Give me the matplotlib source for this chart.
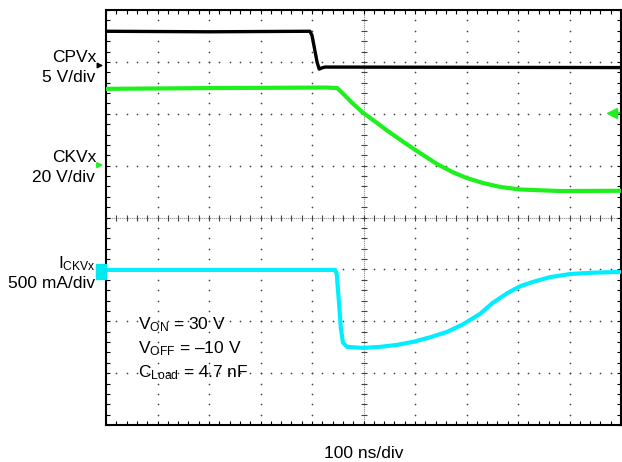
import numpy as np
import matplotlib
matplotlib.use("Agg")
import matplotlib.pyplot as plt
from matplotlib.ticker import MultipleLocator
from matplotlib.patches import Rectangle

plt.rcParams['font.family'] = ['Liberation Sans', 'DejaVu Sans']
plt.rcParams['mathtext.fontset'] = 'custom'
plt.rcParams['mathtext.rm'] = 'Liberation Sans'
plt.rcParams['mathtext.it'] = 'Liberation Sans'

# time in ns (100 ns/div)
cpv_t = [0, 200, 396, 400, 405, 410, 414, 418, 425, 1000]
cpv_v = [3.3, 3.25, 3.3, 2.9, 1.6, 0.3, -0.35, -0.25, -0.15, -0.2]     # V, 5 V/div

ckv_t = [0, 200, 429, 449, 460, 480, 499, 526, 546, 577, 604, 643, 674, 701,
         732, 765, 804, 882, 1000]
ckv_v = [29.4, 29.7, 29.9, 29.7, 27.6, 23.6, 20.2, 16.3, 13.3, 9.0, 5.4, 0.4, -2.8, -5.0,
         -6.9, -8.4, -9.4, -10.0, -9.9]                                 # V, 20 V/div

ick_t = [0, 445, 448, 452, 456, 460, 468, 499, 532, 565, 596, 629, 662, 693, 726,
         751, 779, 804, 829, 862, 901, 940, 1000]
ick_ma = [0, 0, -40, -290, -560, -700, -742, -752, -742, -723, -694, -650, -598, -525, -425,
          -318, -225, -158, -116, -70, -40, -28, -19]                  # mA, 500 mA/div

# channel ground positions (in divisions from bottom)
cpv_gnd, ckv_gnd, ick_gnd = 6.93, 5.01, 2.99

fig = plt.figure(figsize=(6.22, 4.62), dpi=100)
ax = fig.add_axes([106 / 622, 37 / 462, 515 / 622, 415 / 462])
ax.set_xlim(0, 1000)
ax.set_ylim(0, 8)

# graticule
dot_c = '#444444'
minor_y = np.arange(0, 8.001, 0.2)
minor_x = np.arange(0, 1000.1, 20)
for gx in range(100, 1000, 100):
    if gx != 500:
        ax.scatter(np.full_like(minor_y, gx), minor_y, s=1.5, color=dot_c, lw=0, zorder=1)
for gy in range(1, 8):
    if gy != 4:
        ax.scatter(minor_x, np.full_like(minor_x, gy), s=1.5, color=dot_c, lw=0, zorder=1)
ax.axvline(500, color=dot_c, lw=0.8, ls=(0, (0.6, 1.2)), zorder=1)
ax.axhline(4, color=dot_c, lw=0.8, ls=(0, (0.6, 1.2)), zorder=1)
ax.plot(np.full_like(minor_y, 500), minor_y, ls='none', marker='_', ms=5, mew=0.8, color=dot_c, zorder=1)
ax.plot(minor_x, np.full_like(minor_x, 4), ls='none', marker='|', ms=5, mew=0.8, color=dot_c, zorder=1)

ax.xaxis.set_major_locator(MultipleLocator(100))
ax.xaxis.set_minor_locator(MultipleLocator(20))
ax.yaxis.set_major_locator(MultipleLocator(1))
ax.yaxis.set_minor_locator(MultipleLocator(0.2))
ax.tick_params(which='both', direction='in', length=3, width=0.8, top=True, right=True,
               labelleft=False, labelbottom=False)
for s in ax.spines.values():
    s.set_linewidth(1.5)

# traces
ax.plot(cpv_t, np.array(cpv_v) / 5 + cpv_gnd, color='black', lw=2.4, zorder=3)
ax.plot(ckv_t, np.array(ckv_v) / 20 + ckv_gnd, color='#1ef01e', lw=3.0, zorder=3)
ax.plot(ick_t, np.array(ick_ma) / 500 + ick_gnd, color='#00eeff', lw=3.0, zorder=3)

# ground markers
ax.annotate('', xy=(0, cpv_gnd), xycoords='data', xytext=(-10, 0), textcoords='offset pixels',
            arrowprops=dict(arrowstyle='-|>', color='black', lw=1, mutation_scale=8),
            annotation_clip=False)
ax.annotate('', xy=(0, ckv_gnd), xycoords='data', xytext=(-10, 0), textcoords='offset pixels',
            arrowprops=dict(arrowstyle='-|>', color='#1ef01e', lw=1.2, mutation_scale=8),
            annotation_clip=False)
fig.patches.append(Rectangle((96 / 622, (462 - 279) / 462), 10 / 622, 15 / 462,
                             transform=fig.transFigure, color='#00e8f0', zorder=5))
fig.text(101 / 622, (462 - 271) / 462, '→', color='white', fontsize=7, ha='center', va='center')
# trigger level marker
ax.plot([978, 997], [(425 - 113) / 51.875] * 2, color='#1ef01e', lw=1.5, clip_on=False)
ax.plot([983], [(425 - 113) / 51.875], marker='<', ms=7, color='#1ef01e', clip_on=False)

# labels
fs = 12.5
fig.text(96 / 622, 1 - 57 / 462, 'CPVx', ha='right', va='center', fontsize=fs)
fig.text(95 / 622, 1 - 78 / 462, '5 V/div', ha='right', va='center', fontsize=fs)
fig.text(96 / 622, 1 - 157 / 462, 'CKVx', ha='right', va='center', fontsize=fs)
fig.text(95 / 622, 1 - 178 / 462, '20 V/div', ha='right', va='center', fontsize=fs)
fig.text(96 / 622, 1 - 268 / 462, r'I$_\mathregular{CKVx}$', ha='right', va='baseline', fontsize=fs)
fig.text(95 / 622, 1 - 284 / 462, '500 mA/div', ha='right', va='center', fontsize=fs)

fig.text(138 / 622, 1 - 329 / 462, r'V$_\mathregular{ON}$ = 30 V', ha='left', va='baseline', fontsize=fs)
fig.text(138 / 622, 1 - 353 / 462, r'V$_\mathregular{OFF}$ = –10 V', ha='left', va='baseline', fontsize=fs)
fig.text(138 / 622, 1 - 377 / 462, r'C$_\mathregular{Load}$ = 4.7 nF', ha='left', va='baseline', fontsize=fs)

fig.text(364 / 622, 1 - 453 / 462, '100 ns/div', ha='center', va='center', fontsize=fs)

fig.savefig('out.png', dpi=100)
